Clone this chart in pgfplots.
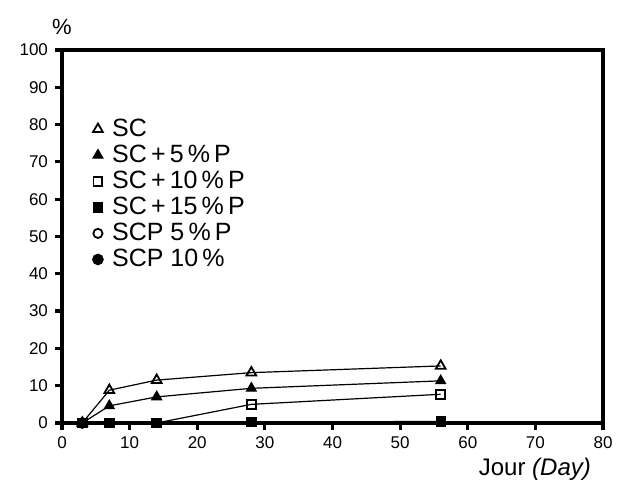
\documentclass[border=0pt]{standalone}
\usepackage{fontspec}
\setmainfont{Liberation Sans}
\usepackage{pgfplots}
\pgfplotsset{compat=1.18}
\begin{document}
\begin{tikzpicture}
\begin{axis}[
  scale only axis, clip=false,
  width=270.5pt, height=186.5pt,
  xmin=0, xmax=80, ymin=0, ymax=100,
  xtick={0,10,...,80}, ytick={0,10,...,100},
  tick align=outside, tick pos=left,
  major tick length=3.5pt,
  major tick style={line width=1.6pt, black},
  axis line style={draw=none},
  /pgf/number format/assume math mode=true,
  tick label style={font=\fontsize{8.5}{10}\selectfont},
  xlabel={Jour \textit{(Day)}},
  xlabel style={at={(rel axis cs:0.874,0)}, anchor=north, yshift=-14pt,
    font=\fontsize{12}{14}\selectfont},
  ylabel={\%},
  ylabel style={rotate=-90, at={(rel axis cs:0,1)}, anchor=south, yshift=4pt,
    font=\fontsize{11}{12}\selectfont},
  legend style={draw=none, fill=none, at={(rel axis cs:0.045,0.835)}, anchor=north west,
    font=\fontsize{12.5}{14}\selectfont, row sep=-0.2pt,
    nodes={inner sep=1.5pt}},
  legend cell align=left,
  legend image code/.code={\draw[#1] plot coordinates {(0.12cm,0cm)};
    \path (0.12cm+5.3pt,0cm);},
  every axis plot/.append style={black, line width=0.6pt},
]
\draw[black, line width=2.2pt, line join=miter] (rel axis cs:0,0) rectangle (rel axis cs:1,1);
\addplot[mark=triangle, mark size=2.8pt, mark options={line width=0.9pt}]
  coordinates {(3,0) (7,8.8) (14,11.5) (28,13.5) (56,15.3)};
\addlegendentry{SC}
\addplot[mark=triangle*, mark size=2.8pt]
  coordinates {(3,0) (7,4.6) (14,7) (28,9.3) (56,11.3)};
\addlegendentry{SC\,+\,5\,\%\,P}
\addplot[mark=square, mark size=2.2pt, mark options={line width=0.9pt}]
  coordinates {(3,0) (7,0) (14,0) (28,5) (56,7.7)};
\addlegendentry{SC\,+\,10\,\%\,P}
\addplot[mark=square*, mark size=2.3pt]
  coordinates {(3,0) (7,0) (14,0) (28,0.3) (56,0.4)};
\addlegendentry{SC\,+\,15\,\%\,P}
\addplot[only marks, mark=o, mark size=2.3pt, mark options={line width=0.9pt}]
  coordinates {(3,0)};
\addlegendentry{SCP 5\,\%\,P}
\addplot[only marks, mark=*, mark size=2.6pt]
  coordinates {(3,0)};
\addlegendentry{SCP 10\,\%}
\coordinate (sw) at (rel axis cs:0,0);
\coordinate (ne) at (rel axis cs:1,1);
\end{axis}
\pgfresetboundingbox
\useasboundingbox ([shift={(-31pt,-31pt)}]sw) rectangle ([shift={(7.5pt,25pt)}]ne);
\end{tikzpicture}
\end{document}
